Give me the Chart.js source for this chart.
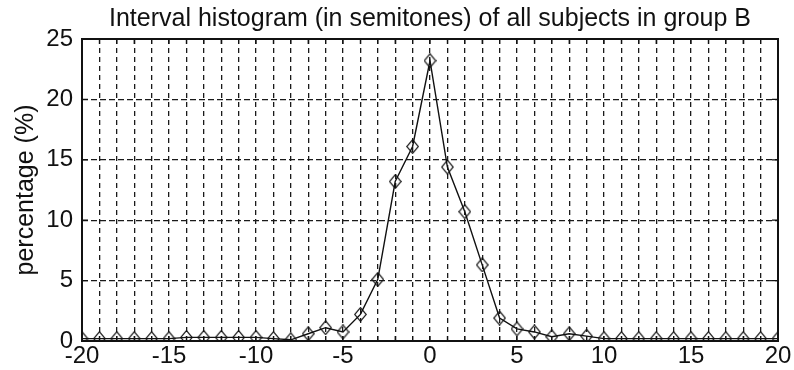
<!DOCTYPE html>
<html>
<head>
<meta charset="utf-8">
<script src="https://cdn.jsdelivr.net/npm/chart.js@4/dist/chart.umd.min.js"></script>
<style>
  html, body { margin: 0; padding: 0; background: #ffffff; }
  #wrap { width: 794px; height: 370px; }
</style>
</head>
<body>
<div id="wrap"><canvas id="chart" width="794" height="370"></canvas></div>
<script>
// Interval size in semitones (x axis)
const semitones = [
  -20, -19, -18, -17, -16, -15, -14, -13, -12, -11, -10, -9, -8, -7, -6, -5, -4, -3, -2, -1,
  0, 1, 2, 3, 4, 5, 6, 7, 8, 9, 10, 11, 12, 13, 14, 15, 16, 17, 18, 19, 20
];

// Share of intervals for all subjects in group B (%)
const percentages = [
  0.2, 0.2, 0.2, 0.2, 0.2, 0.2, 0.3, 0.3, 0.3, 0.3, 0.3, 0.2, 0.1, 0.6, 1.1, 0.75, 2.2, 5.1, 13.2, 16.1,
  23.2, 14.4, 10.7, 6.3, 1.9, 1.0, 0.75, 0.35, 0.6, 0.4, 0.2, 0.2, 0.2, 0.2, 0.2, 0.2, 0.2, 0.2, 0.2, 0.2, 0.2
];

const xLabeledTicks = [-20, -15, -10, -5, 0, 5, 10, 15, 20];
const yTicks = [0, 5, 10, 15, 20, 25];

const titleText = 'Interval histogram (in semitones) of all subjects in group B';
const yAxisTitle = 'percentage (%)';

const FONT = "'Liberation Sans', Arial, Helvetica, sans-serif";
const INK = '#111111';

// Hollow diamond marker, slightly taller than wide
function makeDiamond(w, h) {
  const c = document.createElement('canvas');
  c.width = w; c.height = h;
  const g = c.getContext('2d');
  g.strokeStyle = INK;
  g.lineWidth = 1.2;
  g.beginPath();
  g.moveTo(w / 2, 0.7);
  g.lineTo(w - 0.7, h / 2);
  g.lineTo(w / 2, h - 0.7);
  g.lineTo(0.7, h / 2);
  g.closePath();
  g.stroke();
  return c;
}
const diamond = makeDiamond(13, 15);

// Box around the plot area with inward tick marks on all four sides
const axesFrame = {
  id: 'axesFrame',
  beforeDatasetsDraw(chart) {
    const { ctx, chartArea: a, scales } = chart;
    ctx.save();
    ctx.strokeStyle = INK;
    ctx.lineWidth = 1.2;
    ctx.beginPath();
    scales.x.ticks.forEach(t => {
      const px = scales.x.getPixelForValue(t.value);
      ctx.moveTo(px, a.bottom); ctx.lineTo(px, a.bottom - 5);
      ctx.moveTo(px, a.top); ctx.lineTo(px, a.top + 5);
    });
    scales.y.ticks.forEach(t => {
      const py = scales.y.getPixelForValue(t.value);
      ctx.moveTo(a.left, py); ctx.lineTo(a.left + 6, py);
      ctx.moveTo(a.right, py); ctx.lineTo(a.right - 6, py);
    });
    ctx.stroke();
    ctx.lineWidth = 2;
    ctx.strokeRect(a.left, a.top, a.right - a.left, a.bottom - a.top);
    ctx.restore();
  }
};

const points = semitones.map((s, i) => ({ x: s, y: percentages[i] }));

new Chart(document.getElementById('chart'), {
  type: 'line',
  data: {
    datasets: [{
      data: points,
      borderColor: INK,
      borderWidth: 1.4,
      tension: 0,
      pointStyle: diamond,
      pointRadius: 7,
      clip: 0.5
    }]
  },
  options: {
    responsive: false,
    animation: false,
    events: [],
    layout: { padding: { left: 0, right: 16, top: 0, bottom: 0 } },
    plugins: {
      legend: { display: false },
      tooltip: { enabled: false },
      title: {
        display: true,
        text: titleText,
        color: INK,
        fullSize: false,
        font: { family: FONT, size: 25, weight: 'normal', lineHeight: 1.2 },
        padding: { top: 4, bottom: 5 }
      }
    },
    scales: {
      x: {
        type: 'linear',
        min: -20,
        max: 20,
        afterBuildTicks(scale) {
          scale.ticks = semitones.map(v => ({ value: v }));
        },
        afterFit(scale) {
          scale.height = 29;
          scale.paddingLeft = 0;
          scale.paddingRight = 0;
        },
        ticks: {
          autoSkip: false,
          maxRotation: 0,
          padding: 1,
          color: INK,
          font: { family: FONT, size: 24 },
          callback: v => (xLabeledTicks.includes(v) ? String(v) : '')
        },
        grid: { color: '#1a1a1a', lineWidth: 1.3, drawTicks: false },
        border: { display: false, dash: [5, 4] }
      },
      y: {
        type: 'linear',
        min: 0,
        max: 25,
        afterBuildTicks(scale) {
          scale.ticks = yTicks.map(v => ({ value: v }));
        },
        afterFit(scale) {
          scale.width = 82;
          scale.paddingTop = 0;
          scale.paddingBottom = 0;
        },
        ticks: {
          padding: 9,
          color: INK,
          font: { family: FONT, size: 24 }
        },
        grid: { color: '#1a1a1a', lineWidth: 1.3, drawTicks: false },
        border: { display: false, dash: [6, 3] },
        title: {
          display: true,
          text: yAxisTitle,
          color: INK,
          font: { family: FONT, size: 25 },
          padding: { top: 11, bottom: 0 }
        }
      }
    }
  },
  plugins: [axesFrame]
});
</script>
</body>
</html>
